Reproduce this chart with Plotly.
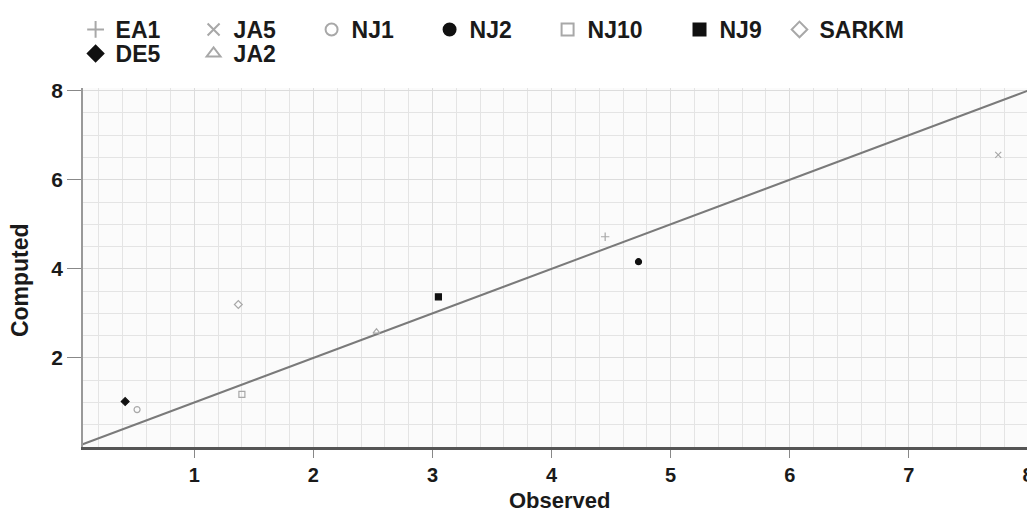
import plotly.graph_objects as go

# ---- data ----
series_names = ["EA1", "JA5", "NJ1", "NJ2", "NJ10", "NJ9", "SARKM", "DE5", "JA2"]
observed = [4.45, 7.75, 0.52, 4.73, 1.40, 3.05, 1.37, 0.42, 2.53]
computed = [4.72, 6.56, 0.84, 4.16, 1.18, 3.37, 3.20, 1.02, 2.59]
symbols = ["cross-thin-open", "x-thin-open", "circle-open", "circle", "square-open",
           "square", "diamond-open", "diamond", "triangle-up-open"]
colors = ["#a8a8a8", "#a8a8a8", "#a8a8a8", "#111111", "#a8a8a8",
          "#111111", "#a8a8a8", "#111111", "#a8a8a8"]
legend_group = ["legend", "legend", "legend", "legend", "legend",
                "legend3", "legend4", "legend2", "legend2"]
x_ticks = [1, 2, 3, 4, 5, 6, 7, 8]
y_ticks = [2, 4, 6, 8]
line_x = [0, 8.2]
line_y = [0, 8.2]
x_title = "Observed"
y_title = "Computed"

fig = go.Figure()
fig.add_trace(go.Scatter(x=line_x, y=line_y, mode="lines",
                         line=dict(color="#7a7a7a", width=2), showlegend=False,
                         hoverinfo="skip"))
for n, xo, yc, s, c, lg in zip(series_names, observed, computed, symbols, colors, legend_group):
    fig.add_trace(go.Scatter(
        x=[xo], y=[yc], mode="markers", name=n, legend=lg,
        marker=dict(symbol=s, size=6, color=c, line=dict(color=c, width=1.2)),
    ))

font_fam = "Liberation Sans, Arial, sans-serif"
leg_common = dict(orientation="h", xanchor="left", yanchor="top",
                  xref="container", yref="container",
                  font=dict(size=23, family=font_fam, weight="bold"),
                  itemsizing="constant", bgcolor="rgba(0,0,0,0)")
fig.update_layout(
    width=1035, height=529,
    margin=dict(l=75, r=0, t=80, b=90),
    paper_bgcolor="white",
    plot_bgcolor="#fbfbfb",
    font=dict(family=font_fam, color="#1a1a1a"),
    showlegend=True,
    legend=dict(x=0.0653, y=1.0, entrywidth=73, entrywidthmode="pixels", **leg_common),
    legend3=dict(x=0.6488, y=1.0, **leg_common),
    legend4=dict(x=0.7454, y=1.0, **leg_common),
    legend2=dict(x=0.0653, y=0.9546, entrywidth=73, entrywidthmode="pixels", **leg_common),
    xaxis=dict(range=[0.066, 8.126], tickvals=x_ticks, ticks="outside", ticklen=8,
               tickcolor="#888", tickwidth=1,
               tickfont=dict(size=20, family=font_fam, weight="bold"),
               showgrid=True, gridcolor="#dcdcdc", gridwidth=1,
               minor=dict(dtick=0.2, showgrid=True, gridcolor="#e4e4e4", gridwidth=1),
               showline=True, linecolor="#555", linewidth=3, mirror=False,
               zeroline=False, automargin=False),
    yaxis=dict(range=[0, 8.06], tickvals=y_ticks, ticks="outside", ticklen=14,
               tickcolor="#888", tickwidth=1,
               tickfont=dict(size=21, family=font_fam, weight="bold"),
               showgrid=True, gridcolor="#dcdcdc", gridwidth=1,
               minor=dict(dtick=0.5, showgrid=True, gridcolor="#e4e4e4", gridwidth=1),
               showline=True, linecolor="#999", linewidth=1.5, mirror=True,
               zeroline=False, automargin=False),
    annotations=[
        dict(text=x_title, xref="paper", yref="paper", x=0.497, y=-0.1504,
             xanchor="center", yanchor="middle", showarrow=False,
             font=dict(size=22, family=font_fam, weight="bold", color="#1a1a1a")),
        dict(text=y_title, xref="paper", yref="paper", x=-0.0656, y=0.465,
             xanchor="center", yanchor="middle", showarrow=False, textangle=-90,
             font=dict(size=23, family=font_fam, weight="bold", color="#1a1a1a")),
    ],
)
fig.write_html("out.html")
